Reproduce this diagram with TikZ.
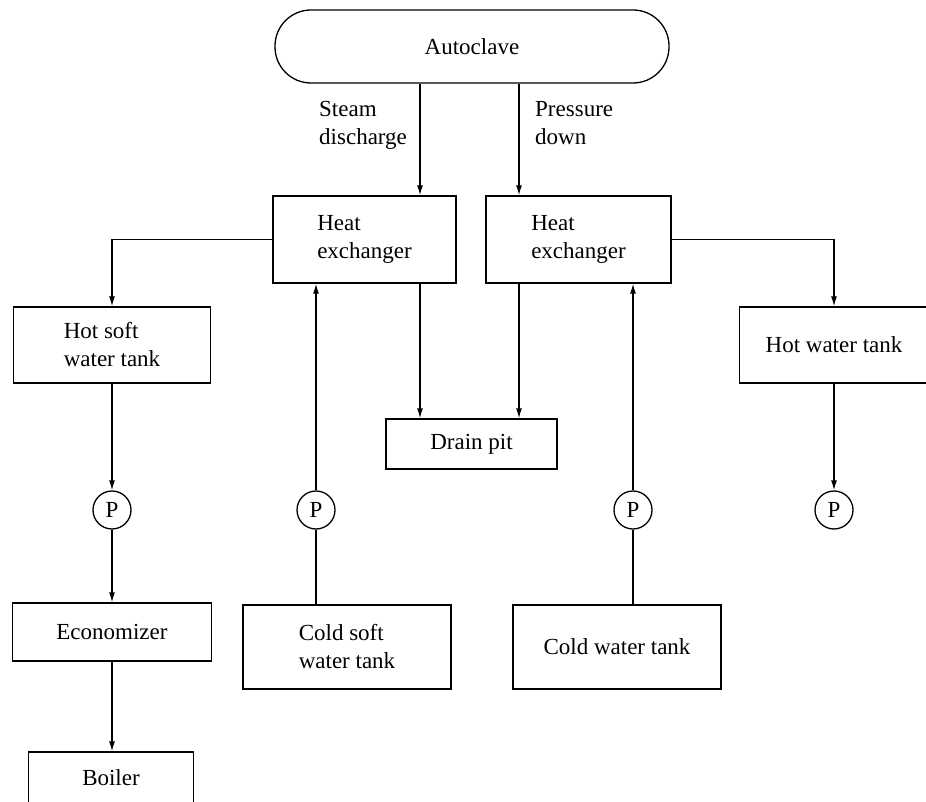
\documentclass[tikz,border=0pt]{standalone}
\usepackage{fontspec}
\setmainfont{Liberation Serif}
\usetikzlibrary{arrows.meta}
\begin{document}
\begin{tikzpicture}[x=1pt,y=-1pt,
  every node/.style={font=\fontsize{23}{28}\selectfont},
  box/.style={draw, line width=1.3pt, inner sep=0pt, align=left},
  pump/.style={draw, circle, line width=1.3pt, minimum size=38pt, inner sep=0pt},
  flow/.style={line width=1.3pt, -{Latex[length=10pt,width=6pt]}},
  pipe/.style={line width=1.3pt},
  lbl/.style={anchor=north west, align=left, inner sep=0pt}]
\useasboundingbox (0,0) rectangle (926,802);
% column coordinates
\coordinate (cA) at (420,0);
\coordinate (cB) at (519,0);
% nodes
\node[box, minimum width=394pt, minimum height=73pt, rounded corners=36pt] (auto) at (472,46.5) {Autoclave};
\node[box, minimum width=183pt, minimum height=87pt] (he1) at (364.5,239.5) {Heat\\exchanger};
\node[box, minimum width=185pt, minimum height=87pt] (he2) at (578.5,239.5) {Heat\\exchanger};
\node[box, minimum width=197pt, minimum height=76pt] (hs) at (112,345) {Hot soft\\water tank};
\node[box, minimum width=189pt, minimum height=76pt] (hw) at (834,345) {Hot water tank};
\node[box, minimum width=171pt, minimum height=50pt] (drain) at (471.5,444) {Drain pit};
\node[pump] (p1) at (112,510) {P};
\node[pump] (p2) at (316,510) {P};
\node[pump] (p3) at (633,510) {P};
\node[pump] (p4) at (834,510) {P};
\node[box, minimum width=199pt, minimum height=58pt] (econ) at (112,632) {Economizer};
\node[box, minimum width=208pt, minimum height=84pt] (cs) at (347,647) {Cold soft\\water tank};
\node[box, minimum width=208pt, minimum height=84pt] (cw) at (617,647) {Cold water tank};
\node[box, minimum width=165pt, minimum height=52pt] (boiler) at (111,778) {Boiler};
% labels
\node[lbl] (steam) at (319,101) {Steam\\discharge};
\node[lbl] (press) at (535,101) {Pressure\\down};
% connectors
\draw[flow] (auto.south -| cA) -- (he1.north -| cA);
\draw[flow] (auto.south -| cB) -- (he2.north -| cB);
\draw[flow] (he1.west) -| (hs.north);
\draw[flow] (he2.east) -| (hw.north);
\draw[flow] (he1.south -| cA) -- (drain.north -| cA);
\draw[flow] (he2.south -| cB) -- (drain.north -| cB);
\draw[flow] (hs.south) -- (p1.north);
\draw[flow] (p1.south) -- (econ.north);
\draw[flow] (econ.south) -- (boiler.north -| econ.south);
\draw[pipe] (cs.north -| p2) -- (p2.south);
\draw[flow] (p2.north) -- (he1.south -| p2);
\draw[pipe] (cw.north -| p3) -- (p3.south);
\draw[flow] (p3.north) -- (he2.south -| p3);
\draw[flow] (hw.south) -- (p4.north);
\end{tikzpicture}
\end{document}
